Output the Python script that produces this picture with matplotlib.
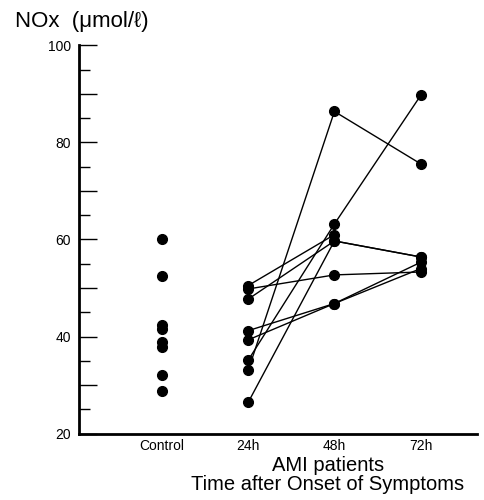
import numpy as np
import matplotlib
matplotlib.use("Agg")
import matplotlib.pyplot as plt
from matplotlib.ticker import MultipleLocator, FuncFormatter

plt.rcParams['font.family'] = ['Liberation Sans', 'DejaVu Sans']

categories = ["Control", "24h", "48h", "72h"]

# control group values (umol/l)
control = [60.1, 52.5, 42.4, 41.5, 38.8, 37.8, 32.0, 28.8]

# AMI patients, one row per patient: 24h, 48h, 72h (nan = no value)
patients_24h = [50.5, 49.8, 47.7, 41.2, 39.3, 35.1, 33.0, 26.4]
patients_48h = [61.0, 52.7, 59.7, 46.8, 46.8, 63.2, 86.4, 59.7]
patients_72h = [np.nan, 53.3, 56.4, 55.3, 54.0, 89.7, 75.6, 56.4]


def main():
    fig = plt.figure(figsize=(4.85, 5.0), dpi=100)
    ax = fig.add_axes([0.163, 0.133, 0.82, 0.776])

    ax.plot([0] * len(control), control, "o", color="black", markersize=7, zorder=3)

    for a, b, c in zip(patients_24h, patients_48h, patients_72h):
        ax.plot([1, 2, 3], [a, b, c], "-o", color="black", linewidth=1.0,
                markersize=7, zorder=3)

    ax.set_xlim(-0.96, 3.65)
    ax.set_ylim(20, 100)

    ax.spines["top"].set_visible(False)
    ax.spines["right"].set_visible(False)
    ax.spines["left"].set_linewidth(2)
    ax.spines["bottom"].set_linewidth(2)

    ax.set_xticks(range(len(categories)))
    ax.set_xticklabels(categories, fontsize=10)
    ax.tick_params(axis="x", length=0, pad=4)

    ax.yaxis.set_major_locator(MultipleLocator(10))
    ax.yaxis.set_minor_locator(MultipleLocator(5))
    ax.yaxis.set_major_formatter(
        FuncFormatter(lambda v, p: "%d" % v if int(v) % 20 == 0 else ""))
    ax.tick_params(axis="y", which="major", direction="in", length=13,
                   width=1, labelsize=10, pad=6)
    ax.tick_params(axis="y", which="minor", direction="in", length=8, width=1)

    ax.set_xlabel("AMI patients\nTime after Onset of Symptoms", fontsize=14.5,
                  linespacing=1.0)
    ax.xaxis.set_label_coords(0.626, -0.058, transform=ax.transAxes)
    ax.xaxis.label.set_verticalalignment("top")

    fig.text(0.03, 0.956, "NOx  (\u03bcmol/\u2113)", fontsize=16,
             ha="left", va="center")

    fig.savefig("out.png", dpi=100)


if __name__ == "__main__":
    main()
